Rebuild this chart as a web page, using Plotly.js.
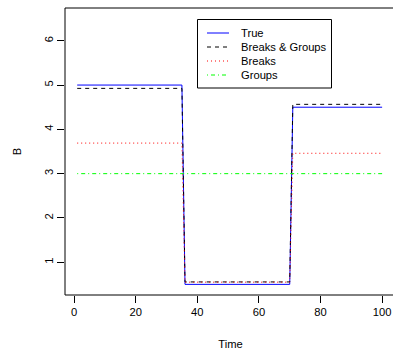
<!DOCTYPE html>
<html>
<head>
<meta charset="utf-8">
<script src="https://cdn.plot.ly/plotly-3.0.1.min.js"></script>
<style>
  html, body { margin: 0; padding: 0; background: #fff; overflow: hidden; }
  #chart { width: 396px; height: 353px; }
</style>
</head>
<body>
<div id="chart"></div>
<script>
// Time points where the step series change level (values are constant between them)
const time = [1, 35, 36, 70, 71, 100];

// Series levels at those time points
const trueB          = [5.00, 5.00, 0.50, 0.50, 4.50, 4.50];
const breaksGroupsB  = [4.925, 4.925, 0.555, 0.555, 4.565, 4.565];
const breaksB        = [3.69, 3.69, 0.55, 0.55, 3.46, 3.46];
const groupsB        = [3.00, 3.00, 3.00, 3.00, 3.00, 3.00];

const seriesNames = ["True", "Breaks & Groups", "Breaks", "Groups"];
const xTicks = [0, 20, 40, 60, 80, 100];
const yTicks = [1, 2, 3, 4, 5, 6];

const FONT = "Liberation Sans, Arial, Helvetica, sans-serif";
const FS = 11.2;

// Line styles: solid, dashed, dotted, dot-dash
const styles = [
  { color: "#0000ff", dash: "solid" },
  { color: "#000000", dash: "4px,4px" },
  { color: "#ff0000", dash: "1px,3px" },
  { color: "#00ff00", dash: "1px,3px,4px,3px" }
];
const allSeries = [trueB, breaksGroupsB, breaksB, groupsB];

const traces = allSeries.map((vals, i) => ({
  x: time,
  y: vals,
  type: "scatter",
  mode: "lines",
  name: seriesNames[i],
  line: { color: styles[i].color, width: 1, dash: styles[i].dash },
  hoverinfo: "skip",
  showlegend: false
}));

// Plot area geometry in pixels; the panel runs slightly past the page's right edge
const W = 396, H = 353;
const M = { l: 65, r: 0, t: 8, b: 58 };
const plotW = W - M.l - M.r, plotH = H - M.t - M.b;
const px = x => (x - M.l) / plotW;
const py = y => (H - M.b - y) / plotH;

// Frame: top, bottom and left edges of the panel
const frame = { color: "#000", width: 1 };
const shapes = [
  { type: "line", xref: "paper", yref: "paper", x0: 0, x1: 1, y0: 1, y1: 1, line: frame, layer: "above" },
  { type: "line", xref: "paper", yref: "paper", x0: 0, x1: 1, y0: 0, y1: 0, line: frame, layer: "above" },
  { type: "line", xref: "paper", yref: "paper", x0: 0, x1: 0, y0: 0, y1: 1, line: frame, layer: "above" }
];

// Boxed key in the upper middle of the panel
shapes.push({
  type: "rect", xref: "paper", yref: "paper",
  x0: px(197.5), x1: px(331.5), y0: py(88), y1: py(19.5),
  line: { color: "#000", width: 1 }, fillcolor: "rgba(255,255,255,1)", layer: "above"
});
const annotations = [];
seriesNames.forEach((name, i) => {
  const yy = 33 + 14 * i;
  shapes.push({
    type: "line", xref: "paper", yref: "paper",
    x0: px(207), x1: px(229), y0: py(yy), y1: py(yy),
    line: { color: styles[i].color, width: 1, dash: styles[i].dash }, layer: "above"
  });
  annotations.push({
    xref: "paper", yref: "paper", x: px(238.5), y: py(yy),
    xanchor: "left", yanchor: "middle", showarrow: false,
    text: name, font: { family: FONT, size: FS, color: "#000" }
  });
});

// 3.08 px per time unit, starting 2.96 units before zero
const xMin = -2.96;
const xMax = xMin + plotW / 3.08;

const layout = {
  width: W, height: H,
  margin: M,
  paper_bgcolor: "#fff", plot_bgcolor: "#fff",
  font: { family: FONT, size: FS, color: "#000" },
  showlegend: false,
  xaxis: {
    range: [xMin, xMax],
    tickvals: xTicks, ticktext: xTicks.map(String),
    ticks: "outside", ticklen: 7, tickwidth: 1, tickcolor: "#000",
    showline: false, showgrid: false, zeroline: false, automargin: false,
    title: { text: "Time", font: { family: FONT, size: FS, color: "#000" }, standoff: 22 }
  },
  yaxis: {
    range: [0.26, 6.74],
    tickvals: yTicks, ticktext: yTicks.map(String),
    tickangle: -90,
    ticks: "outside", ticklen: 7, tickwidth: 1, tickcolor: "#000",
    showline: false, showgrid: false, zeroline: false, automargin: false,
    title: { text: "B", font: { family: FONT, size: FS, color: "#000" }, standoff: 18 }
  },
  shapes: shapes,
  annotations: annotations
};

Plotly.newPlot("chart", traces, layout, { staticPlot: true, displayModeBar: false });
</script>
</body>
</html>
